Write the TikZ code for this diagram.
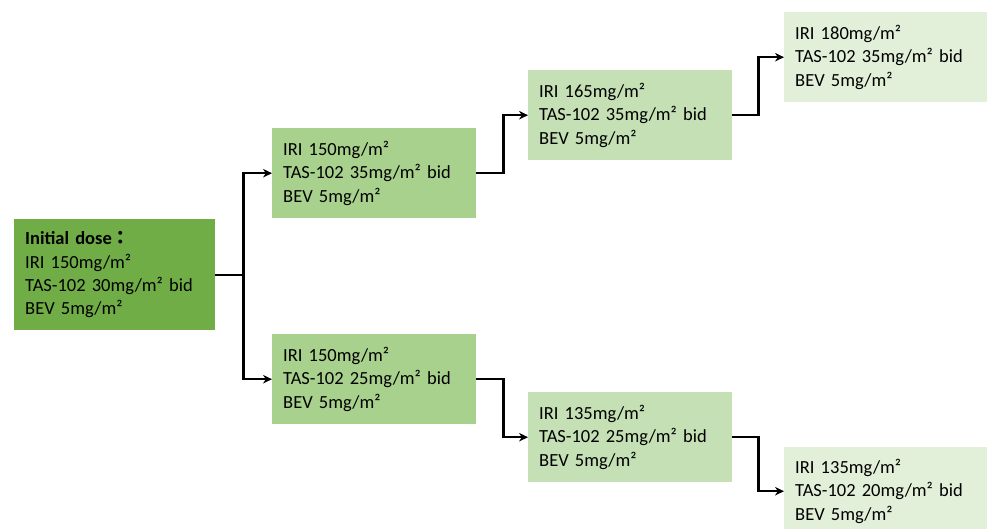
\documentclass[tikz,border=0pt]{standalone}
\usepackage{fontspec}
\setmainfont{Carlito}
\newfontfamily\cjk{Noto Sans CJK TC}
\usetikzlibrary{arrows.meta}
\definecolor{doseA}{HTML}{70AD47}
\definecolor{doseB}{HTML}{A9D18E}
\definecolor{doseC}{HTML}{C5E0B4}
\definecolor{doseD}{HTML}{E2F0D9}
\tikzset{
  dosebox/.style={anchor=north west, minimum width=204pt, minimum height=90pt,
    text width=182pt, inner sep=0pt, align=left,
    font=\fontsize{18.5}{23.3}\selectfont},
  link/.style={line width=2.3pt, -{Stealth[length=9pt,width=8.5pt]}}
}
\begin{document}
\begin{tikzpicture}[x=1pt, y=-1pt]
      \useasboundingbox (0,0) rectangle (987,529);
      \clip (0,0) rectangle (987,529);
      \node[dosebox, fill=doseA, minimum width=201pt, minimum height=111pt, text width=179pt] (init) at (14,219)
        {\textbf{Initial dose{\cjk ：}}\\IRI 150mg/m²\\TAS-102 30mg/m² bid\\BEV 5mg/m²};
      \node[dosebox, fill=doseB] (up1) at (272,128) {IRI 150mg/m²\\TAS-102 35mg/m² bid\\BEV 5mg/m²};
      \node[dosebox, fill=doseB] (low1) at (272,334) {IRI 150mg/m²\\TAS-102 25mg/m² bid\\BEV 5mg/m²};
      \node[dosebox, fill=doseC] (up2) at (528,70) {IRI 165mg/m²\\TAS-102 35mg/m² bid\\BEV 5mg/m²};
      \node[dosebox, fill=doseC] (low2) at (528,392) {IRI 135mg/m²\\TAS-102 25mg/m² bid\\BEV 5mg/m²};
      \node[dosebox, fill=doseD] (up3) at (784,12) {IRI 180mg/m²\\TAS-102 35mg/m² bid\\BEV 5mg/m²};
      \node[dosebox, fill=doseD, minimum height=88pt] (low3) at (784,447) {IRI 135mg/m²\\TAS-102 20mg/m² bid\\BEV 5mg/m²};
      \draw[link] (init.east) -- ++(28,0) |- (up1.west);
      \draw[link] (init.east) -- ++(28,0) |- (low1.west);
      \draw[link] (up1.east) -- ++(27,0) |- (up2.west);
      \draw[link] (low1.east) -- ++(27,0) |- (low2.west);
      \draw[link] (up2.east) -- ++(26,0) |- (up3.west);
      \draw[link] (low2.east) -- ++(26,0) |- (low3.west);
    \end{tikzpicture}
\end{document}
